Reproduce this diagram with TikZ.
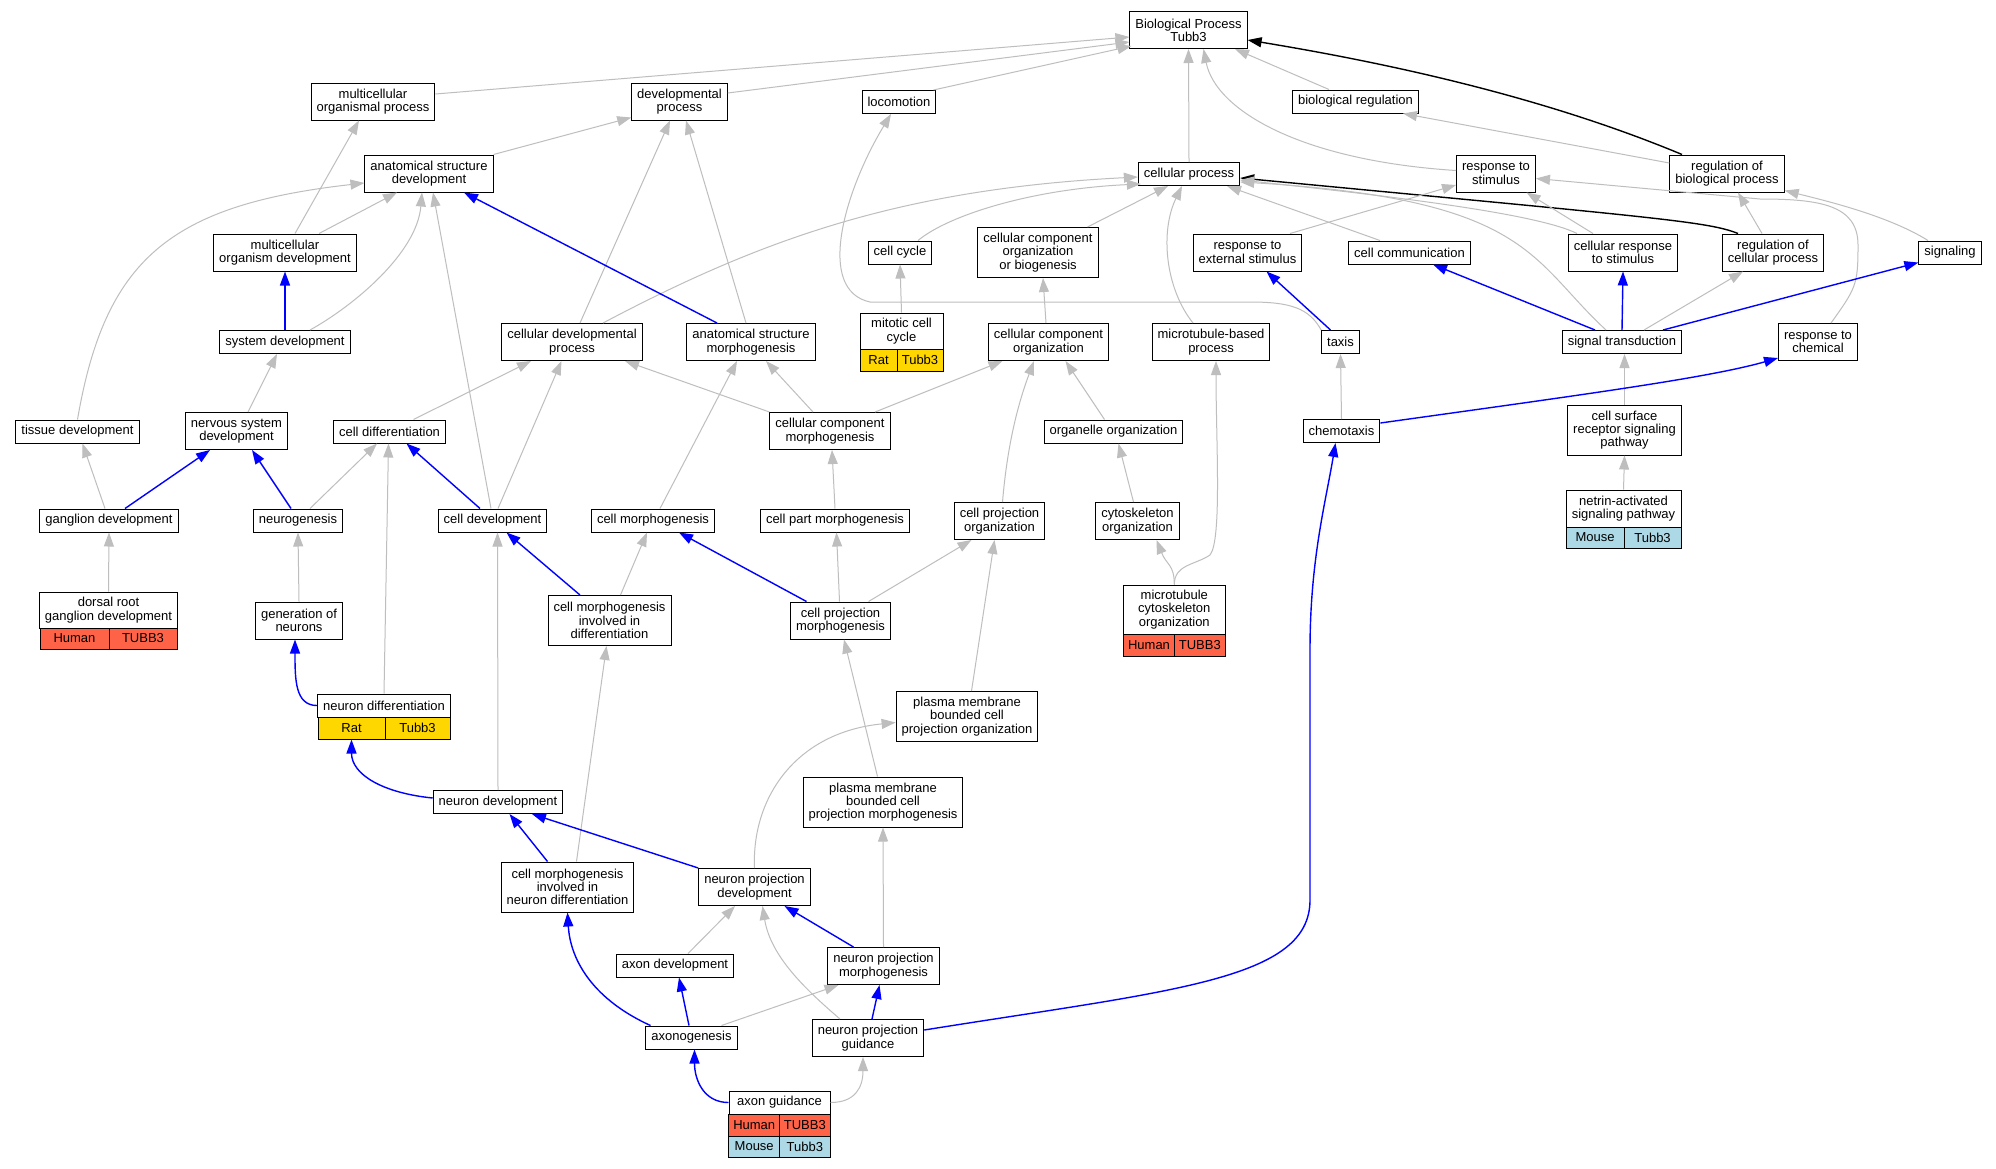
\documentclass[tikz,border=0pt]{standalone}
\usepackage{fontspec}
\setmainfont{Liberation Sans}
\usetikzlibrary{arrows.meta}
\definecolor{edgegray}{RGB}{190,190,190}
\definecolor{humanred}{RGB}{255,99,71}
\definecolor{ratgold}{RGB}{255,215,0}
\definecolor{mouseblue}{RGB}{173,216,230}
\begin{document}
\begin{tikzpicture}[x=1pt,y=-1pt,
  term/.style={draw=black,line width=1pt,fill=white,inner xsep=5.5pt,inner ysep=1pt,align=center,font=\fontsize{13}{13.3}\selectfont},
  oneline/.style={minimum height=23pt},
  twoline/.style={minimum height=37pt},
  threeline/.style={minimum height=50pt},
  gocell/.style={draw=black,line width=1pt,inner sep=0pt,minimum height=22pt,font=\fontsize{13}{13.3}\selectfont},
  isa/.style={draw=edgegray,line width=1pt,-{Triangle[length=14pt,width=10pt]}},
  partof/.style={draw=blue,line width=1.4pt,-{Triangle[length=14pt,width=10pt]}},
  regulates/.style={draw=black,line width=1.4pt,-{Triangle[length=14pt,width=10pt]}}]
\path[fill=white] (0,0) rectangle (1996,1168);
\useasboundingbox (0,0) rectangle (1996,1168);

\node[term,twoline] (bp) at (1188.5,30) {Biological Process\\Tubb3};
\node[term,twoline] (mop) at (373,101.5) {multicellular\\organismal process};
\node[term,twoline] (dev) at (679.5,101.5) {developmental\\process};
\node[term,oneline] (loco) at (899,102) {locomotion};
\node[term,oneline] (bioreg) at (1355.5,101.5) {biological regulation};
\node[term,twoline] (asd) at (429,173.5) {anatomical structure\\development};
\node[term,oneline] (cp) at (1189,174) {cellular process};
\node[term,twoline] (rts) at (1496,173.5) {response to\\stimulus};
\node[term,twoline] (rbp) at (1727,173.5) {regulation of\\biological process};
\node[term,twoline] (mod) at (285,252.5) {multicellular\\organism development};
\node[term,oneline] (cc) at (900,252.5) {cell cycle};
\node[term,threeline] (ccob) at (1038,252.5) {cellular component\\organization\\or biogenesis};
\node[term,twoline] (res) at (1247.5,252.5) {response to\\external stimulus};
\node[term,oneline] (ccom) at (1409.5,252.5) {cell communication};
\node[term,twoline] (crs) at (1623,252.5) {cellular response\\to stimulus};
\node[term,twoline] (rcp) at (1773,252.5) {regulation of\\cellular process};
\node[term,oneline] (sig) at (1950,252.5) {signaling};
\node[term,oneline] (sd) at (285,342) {system development};
\node[term,twoline] (cdp) at (572,342) {cellular developmental\\process};
\node[term,twoline] (asm) at (751,342) {anatomical structure\\morphogenesis};
\node[term,minimum width=83pt,minimum height=36pt] (mcct) at (901.5,331) {mitotic cell\\cycle};
\node[gocell,fill=ratgold,minimum width=37pt] (mcca) at (878.5,360) {Rat};
\node[gocell,fill=ratgold,minimum width=46pt] (mccb) at (920,360) {Tubb3};
\node[term,twoline] (cco) at (1048.5,342) {cellular component\\organization};
\node[term,twoline] (mbp) at (1211,342) {microtubule-based\\process};
\node[term,oneline] (taxis) at (1340.5,342) {taxis};
\node[term,oneline] (st) at (1622,342) {signal transduction};
\node[term,twoline] (rtc) at (1818,342) {response to\\chemical};
\node[term,oneline] (td) at (77.5,431.5) {tissue development};
\node[term,twoline] (nsd) at (236.5,431) {nervous system\\development};
\node[term,oneline] (cdiff) at (389.5,431.5) {cell differentiation};
\node[term,twoline] (ccm) at (830,431) {cellular component\\morphogenesis};
\node[term,oneline] (oo) at (1113.5,431.5) {organelle organization};
\node[term,oneline] (chemo) at (1341.5,431) {chemotaxis};
\node[term,threeline] (csr) at (1624.5,430) {cell surface\\receptor signaling\\pathway};
\node[term,oneline] (gd) at (109,520.5) {ganglion development};
\node[term,oneline] (ng) at (298,520.5) {neurogenesis};
\node[term,oneline] (cdev) at (492.5,520.5) {cell development};
\node[term,oneline] (cm) at (653,520.5) {cell morphogenesis};
\node[term,oneline] (cpm) at (835,520.5) {cell part morphogenesis};
\node[term,twoline] (cpo) at (999.5,521) {cell projection\\organization};
\node[term,twoline] (cyto) at (1137.5,521) {cytoskeleton\\organization};
\node[term,minimum width=115pt,minimum height=37pt] (nett) at (1623.5,508.5) {netrin-activated\\signaling pathway};
\node[gocell,fill=mouseblue,minimum width=58pt,minimum height=21pt] (neta) at (1595,537.5) {Mouse};
\node[gocell,fill=mouseblue,minimum width=57pt,minimum height=21pt] (netb) at (1652.5,537.5) {Tubb3};
\node[term,minimum width=137pt,minimum height=36pt] (drgt) at (108.5,610) {dorsal root\\ganglion development};
\node[gocell,fill=humanred,minimum width=69pt,minimum height=21pt] (drga) at (74.5,638.5) {Human};
\node[gocell,fill=humanred,minimum width=68pt,minimum height=21pt] (drgb) at (143,638.5) {TUBB3};
\node[term,twoline] (gon) at (299,620.5) {generation of\\neurons};
\node[term,threeline] (cmid) at (609.5,620.5) {cell morphogenesis\\involved in\\differentiation};
\node[term,twoline] (cpmo) at (840.5,620.5) {cell projection\\morphogenesis};
\node[term,minimum width=101.4pt,minimum height=49pt] (mcot) at (1174.3,609.5) {microtubule\\cytoskeleton\\organization};
\node[gocell,fill=humanred,minimum width=51pt] (mcoa) at (1149,645) {Human};
\node[gocell,fill=humanred,minimum width=50.5pt] (mcob) at (1199.8,645) {TUBB3};
\node[term,minimum width=132pt,minimum height=23pt] (ndt) at (384,705.5) {neuron differentiation};
\node[gocell,fill=ratgold,minimum width=67pt] (nda) at (351.5,728) {Rat};
\node[gocell,fill=ratgold,minimum width=65pt] (ndb) at (417.5,728) {Tubb3};
\node[term,threeline] (pmo) at (967,716.5) {plasma membrane\\bounded cell\\projection organization};
\node[term,threeline] (pmm) at (883,802) {plasma membrane\\bounded cell\\projection morphogenesis};
\node[term,oneline] (ndev) at (498,802) {neuron development};
\node[term,threeline] (cmind) at (567.5,887) {cell morphogenesis\\involved in\\neuron differentiation};
\node[term,twoline] (npd) at (754.5,887) {neuron projection\\development};
\node[term,oneline] (ad) at (675,965.5) {axon development};
\node[term,twoline] (npm) at (883.5,966) {neuron projection\\morphogenesis};
\node[term,oneline] (axg) at (691.5,1037.5) {axonogenesis};
\node[term,twoline] (npg) at (868,1038) {neuron projection\\guidance};
\node[term,minimum width=101pt,minimum height=23pt] (agt) at (779.5,1102.5) {axon guidance};
\node[gocell,fill=humanred,minimum width=50.5pt] (aga) at (754.2,1125) {Human};
\node[gocell,fill=humanred,minimum width=50.5pt] (agb) at (804.8,1125) {TUBB3};
\node[gocell,fill=mouseblue,minimum width=50.5pt,minimum height=21pt] (agc) at (754.2,1146.5) {Mouse};
\node[gocell,fill=mouseblue,minimum width=50.5pt,minimum height=21pt] (agd) at (804.8,1146.5) {Tubb3};

\draw[regulates] ([xshift=-45pt]rbp.north) .. controls +(-132,-55) and +(152,25) .. ([yshift=-10pt]bp.east);
\draw[regulates] ([xshift=-35pt]rcp.north) .. controls +(-30,-12) and +(420,40) .. ([yshift=-4pt]cp.east);

\draw[isa] ([yshift=7.5pt]mop.east) -- ([yshift=-7pt]bp.west);
\draw[isa] ([yshift=8.5pt]dev.east) -- ([yshift=-12pt]bp.west);
\draw[isa] ([xshift=-3pt]loco.north east) -- ([xshift=2pt,yshift=3pt]bp.south west);
\draw[isa] ([xshift=-26.5pt]bioreg.north) -- ([xshift=46.5pt]bp.south);
\draw[isa] (cp.north) -- (bp.south);
\draw[isa] ([yshift=3pt]rts.west) .. controls +(-156,-10) and +(12,61) .. ([xshift=15pt]bp.south);
\draw[isa] ([yshift=10.5pt]rbp.west) -- ([xshift=47.5pt]bioreg.south);
\draw[isa] (asd.north east) -- ([yshift=3pt]dev.south west);
\draw[isa] ([xshift=10pt]mod.north) -- ([xshift=-14pt]mop.south);
\draw[isa] ([xshift=34pt]mod.north) -- ([xshift=-32pt]asd.south);
\draw[isa] ([xshift=25pt]sd.north) .. controls +(45,-25) and +(-5,60) .. ([xshift=-7pt]asd.south);
\draw[isa] (td.north) .. controls +(27.5,-160) and +(-195,22) .. ([yshift=-9.5pt]asd.west);
\draw[isa] ([xshift=-1.5pt]cdev.north) -- ([xshift=4pt]asd.south);
\draw[isa] ([xshift=8pt]cdp.north) -- ([xshift=-9.5pt]dev.south);
\draw[isa] ([xshift=-5pt]asm.north) -- ([xshift=6.5pt]dev.south);
\draw[isa] ([xshift=31pt]cdp.north) .. controls +(157,-83) and +(-238,12) .. ([yshift=-3pt]cp.west);
\draw[isa] ([xshift=18pt]cc.north) .. controls +(30,-25) and +(-110,5) .. ([xshift=3pt,yshift=2pt]cp.south west);
\draw[isa] ([xshift=49.5pt]ccob.north) -- ([xshift=-21pt]cp.south);
\draw[isa] ([xshift=-18pt]mbp.north) .. controls +(-28,-35) and +(-22,45) .. ([xshift=-7pt]cp.south);
\draw[isa] ([xshift=-29.5pt]ccom.north) -- ([xshift=38pt]cp.south);
\draw[isa] ([xshift=-46pt]crs.north) .. controls +(-40,-20) and +(150,16) .. ([yshift=-6pt]cp.east);
\draw[isa] ([xshift=-16pt]st.north) .. controls +(-76,-70) and +(290,17) .. ([yshift=-8pt]cp.east);
\draw[isa] (mcct.north) -- (cc.south);
\draw[isa] ([xshift=-2.5pt]cco.north) -- ([xshift=5pt]ccob.south);
\draw[isa] (taxis.north west) .. controls +(-12,-22) and +(40,0) .. (1250,302) -- (870,302) .. controls +(-55,-12) and +(-46,76) .. ([xshift=-8pt]loco.south);
\draw[isa] ([xshift=42.5pt]res.north) -- ([yshift=-11.5pt]rts.west);
\draw[isa] ([xshift=-30pt]crs.north) -- ([xshift=30.5pt]rts.south);
\draw[isa] ([xshift=-11pt]rcp.north) -- ([xshift=11pt]rbp.south);
\draw[isa] ([xshift=-22pt]sig.north) .. controls +(-40,-25) and +(40,10) .. ([yshift=2pt]rbp.south east);
\draw[isa] ([xshift=13pt]rtc.north) .. controls +(25,-35) and +(0,40) .. (1858,245) .. controls +(0,-40) and +(60,0) .. (1760,199) -- ([yshift=-5pt]rts.east);
\draw[isa] ([xshift=22pt]st.north) -- ([xshift=-30pt]rcp.south);
\draw[isa] (csr.north) -- ([xshift=2.5pt]st.south);
\draw[isa] (nett.north) -- (csr.south);
\draw[isa] (chemo.north) -- (taxis.south);
\draw[isa] (ccm.north west) -- ([xshift=53pt]cdp.south);
\draw[isa] ([xshift=-17pt]ccm.north) -- ([xshift=15pt]asm.south);
\draw[isa] ([xshift=45pt]ccm.north) -- ([xshift=-46pt]cco.south);
\draw[isa] ([xshift=24pt]cdiff.north) -- ([xshift=-41pt]cdp.south);
\draw[isa] ([xshift=5.5pt]cdev.north) -- ([xshift=-10.5pt]cdp.south);
\draw[isa] ([xshift=7pt]cm.north) -- ([xshift=-14pt]asm.south);
\draw[isa] ([xshift=-9pt]oo.north) -- ([xshift=17pt]cco.south);
\draw[isa] ([xshift=11.5pt]nsd.north) -- ([xshift=-8pt]sd.south);
\draw[isa] ([xshift=-4pt]gd.north) -- ([xshift=5pt]td.south);
\draw[isa] ([xshift=12pt]ng.north) -- ([xshift=-12.5pt]cdiff.south);
\draw[isa] (ndt.north) -- ([xshift=-1pt]cdiff.south);
\draw[isa] (drgt.north) -- (gd.south);
\draw[isa] (gon.north) -- (ng.south);
\draw[isa] ([xshift=11pt]cmid.north) -- ([xshift=-6pt]cm.south);
\draw[isa] (ndev.north) -- ([xshift=5pt]cdev.south);
\draw[isa] ([xshift=9pt]cmind.north) -- ([xshift=-3pt]cmid.south);
\draw[isa] ([xshift=-1pt]cpmo.north) -- ([xshift=1.5pt]cpm.south);
\draw[isa] ([xshift=28pt]cpmo.north) -- ([xshift=-28pt]cpo.south);
\draw[isa] (cpm.north) -- ([xshift=2pt]ccm.south);
\draw[isa] ([xshift=3pt]cpo.north) .. controls +(5,-60) and +(-15,40) .. ([xshift=-14.5pt]cco.south);
\draw[isa] ([xshift=-4pt]cyto.north) -- ([xshift=5pt]oo.south);
\draw[isa] (mcot.north) .. controls +(0,-20) and +(10,25) .. ([xshift=19pt]cyto.south);
\draw[isa] (mcot.north) .. controls +(0,-20) and +(-15,10) .. (1210,555) .. controls +(12,-15) and +(0,80) .. ([xshift=5pt]mbp.south);
\draw[isa] ([xshift=4.5pt]pmo.north) -- ([xshift=-5pt]cpo.south);
\draw[isa] ([xshift=-5.5pt]pmm.north) -- ([xshift=3.5pt]cpmo.south);
\draw[isa] (npd.north) .. controls +(-3,-70) and +(-100,10) .. ([yshift=-6pt]pmo.west);
\draw[isa] (npm.north) -- (pmm.south);
\draw[isa] ([xshift=13pt]ad.north) -- ([xshift=-19.5pt]npd.south);
\draw[isa] ([xshift=30pt]axg.north) -- ([xshift=-45pt]npm.south);
\draw[isa] ([xshift=-28pt]npg.north) .. controls +(-35,-30) and +(8,50) .. ([xshift=8pt]npd.south);
\draw[isa] (agt.east) .. controls +(25,0) and +(0,30) .. ([xshift=-5pt]npg.south);

\draw[partof] (sd.north) -- (mod.south);
\draw[partof] ([xshift=-34pt]asm.north) -- ([xshift=35pt]asd.south);
\draw[partof] ([xshift=-10pt]taxis.north) -- ([xshift=19pt]res.south);
\draw[partof] ([xshift=-27pt]st.north) -- ([xshift=23.5pt]ccom.south);
\draw[partof] (st.north) -- (crs.south);
\draw[partof] ([xshift=41pt]st.north) -- ([yshift=2pt]sig.south west);
\draw[partof] ([yshift=8pt]chemo.east) .. controls +(200,-28) and +(-70,20) .. ([yshift=3pt]rtc.south west);
\draw[partof] ([yshift=8pt]npg.east) .. controls +(250,-40) and +(0,80) .. (1310,900) -- (1310,650) .. controls +(0,-90) and +(-10,60) .. ([xshift=-6pt]chemo.south);
\draw[partof] ([xshift=16pt]gd.north) -- ([xshift=-26.5pt]nsd.south);
\draw[partof] ([xshift=-7pt]ng.north) -- ([xshift=15.5pt]nsd.south);
\draw[partof] ([xshift=-12.5pt]cdev.north) -- ([xshift=17pt]cdiff.south);
\draw[partof] ([xshift=-29.5pt]cmid.north) -- ([xshift=14pt]cdev.south);
\draw[partof] (ndt.west) .. controls +(-22,0) and +(0,40) .. ([xshift=-4pt]gon.south);
\draw[partof] ([yshift=4pt]ndev.west) .. controls +(-50,-5) and +(0,35) .. (nda.south);
\draw[partof] ([xshift=-34pt]cpmo.north) -- ([xshift=26pt]cm.south);
\draw[partof] ([xshift=-20pt]cmind.north) -- ([xshift=11.5pt]ndev.south);
\draw[partof] (npd.north west) -- ([xshift=34pt]ndev.south);
\draw[partof] ([xshift=-30pt]npm.north) -- ([xshift=30pt]npd.south);
\draw[partof] ([xshift=-2.5pt]axg.north) -- ([xshift=4pt]ad.south);
\draw[partof] ([xshift=-41pt]axg.north) .. controls +(-55,-25) and +(3,50) .. (cmind.south);
\draw[partof] ([xshift=4pt]npg.north) -- ([xshift=-4pt]npm.south);
\draw[partof] (agt.west) .. controls +(-25,0) and +(0,30) .. ([xshift=3pt]axg.south);
\end{tikzpicture}
\end{document}
